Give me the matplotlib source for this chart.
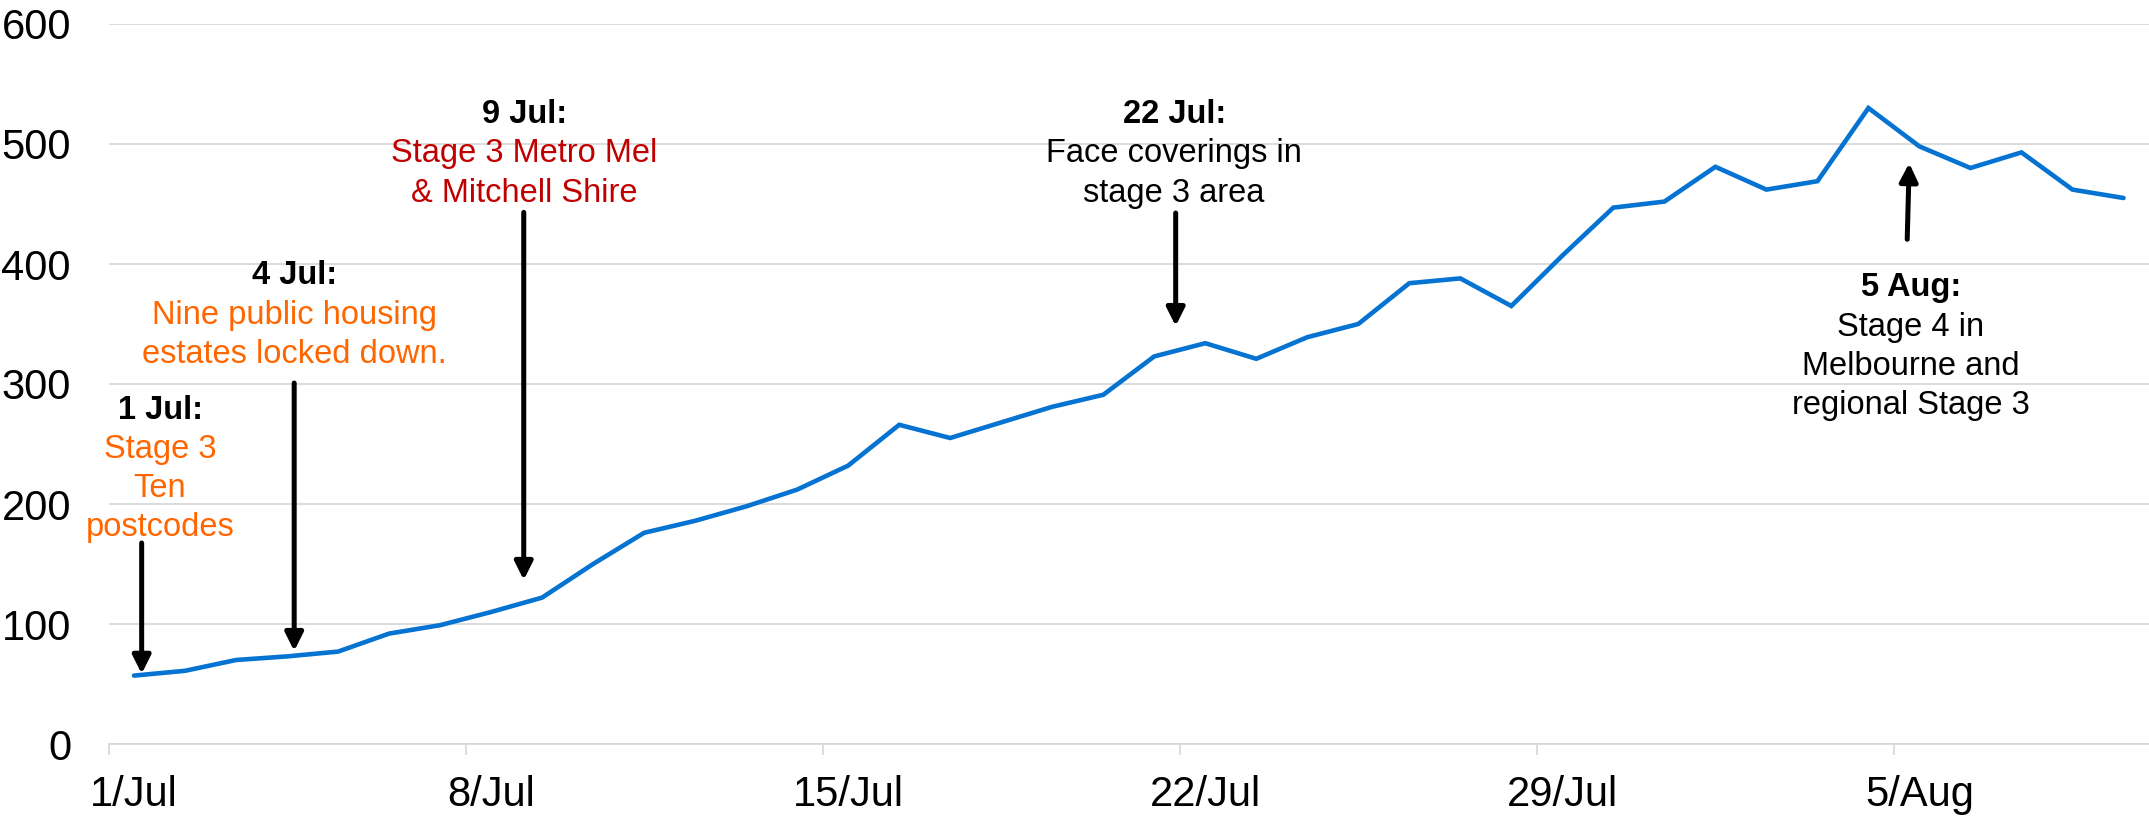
import matplotlib
matplotlib.use('Agg')
import matplotlib.pyplot as plt

plt.rcParams['font.family'] = ['Liberation Sans', 'DejaVu Sans']

# ---------------- data ----------------
dates = [f'{d}/Jul' for d in range(1, 32)] + [f'{d}/Aug' for d in range(1, 10)]
cases = [57, 61, 70, 73, 77, 92, 99, 110, 122, 150,
         176, 186, 198, 212, 232, 266, 255, 268, 281, 291,
         323, 334, 321, 339, 350, 384, 388, 365, 407, 447,
         452, 481, 462, 469, 530, 498, 480, 493, 462, 455]
tick_labels = ['1/Jul', '8/Jul', '15/Jul', '22/Jul', '29/Jul', '5/Aug']
y_ticks = [0, 100, 200, 300, 400, 500, 600]

ORANGE = '#FF6600'
RED = '#C00000'
BLACK = '#000000'

# annotation text: (lines[(text, weight, color)], x, baselines, arrow tail, arrow tip)
annotations = [
    ([('1 Jul:', 'bold', BLACK), ('Stage 3', 'normal', ORANGE),
      ('Ten', 'normal', ORANGE), ('postcodes', 'normal', ORANGE)],
     1.01, [270.8, 238.7, 206.2, 173.7], (0.65, 167.5), (0.65, 58.5)),
    ([('4 Jul:', 'bold', BLACK), ('Nine public housing', 'normal', ORANGE),
      ('estates locked down.', 'normal', ORANGE)],
     3.64, [383.3, 350.0, 317.5], (3.64, 300.8), (3.64, 77.5)),
    ([('9 Jul:', 'bold', BLACK), ('Stage 3 Metro Mel', 'normal', RED),
      ('& Mitchell Shire', 'normal', RED)],
     8.15, [517.2, 484.6, 452.0], (8.14, 443.0), (8.14, 136.7)),
    ([('22 Jul:', 'bold', BLACK), ('Face coverings in', 'normal', BLACK),
      ('stage 3 area', 'normal', BLACK)],
     20.89, [517.2, 484.6, 452.0], (20.92, 442.5), (20.92, 348.3)),
    ([('5 Aug:', 'bold', BLACK), ('Stage 4 in', 'normal', BLACK),
      ('Melbourne and', 'normal', BLACK), ('regional Stage 3', 'normal', BLACK)],
     35.33, [373.3, 340.0, 307.5, 275.0], (35.26, 420.6), (35.30, 484.0)),
]

# ---------------- figure ----------------
W, H = 2149, 817
fig = plt.figure(figsize=(W / 100, H / 100), dpi=100)
ax = fig.add_axes([108.5 / W, 73 / H, (W - 108.5) / W, 720 / H])

x = [i + 0.5 for i in range(len(cases))]
ax.plot(x, cases, color='#0573D1', lw=3.3, solid_joinstyle='miter',
        solid_capstyle='round', zorder=3, clip_on=False)

ax.set_xlim(0, len(cases))
ax.set_ylim(0, 600)

# grid
ax.set_yticks(y_ticks)
ax.set_yticklabels([str(v) for v in y_ticks])
ax.yaxis.grid(True, color='#D9D9D9', lw=1.3)
ax.set_axisbelow(True)
ax.tick_params(axis='y', length=0, pad=27, labelsize=30, labelcolor='black')

# x ticks: marks at category boundaries, labels at category centres
major = [dates.index(t) for t in tick_labels]
ax.set_xticks(major)
ax.set_xticklabels([])
ax.tick_params(axis='x', which='major', length=8, width=1.3, color='#D9D9D9')
ax.set_xticks([m + 0.5 for m in major], minor=True)
ax.set_xticklabels(tick_labels, minor=True)
ax.tick_params(axis='x', which='minor', length=0, pad=22, labelsize=30,
               labelcolor='black')

for s in ['top', 'right', 'left']:
    ax.spines[s].set_visible(False)
ax.spines['bottom'].set_color('#D9D9D9')
ax.spines['bottom'].set_linewidth(1.3)

# annotations
for lines, tx, bases, tail, tip in annotations:
    for (txt, wt, col), by in zip(lines, bases):
        ax.text(tx, by, txt, ha='center', va='baseline', fontsize=23.5,
                fontweight=wt, color=col, zorder=4)
    ax.annotate('', xy=tip, xytext=tail,
                arrowprops=dict(arrowstyle='-|>', lw=3.6, color='black',
                                mutation_scale=27, shrinkA=0, shrinkB=0),
                zorder=5)

fig.savefig('out.png', dpi=100)
